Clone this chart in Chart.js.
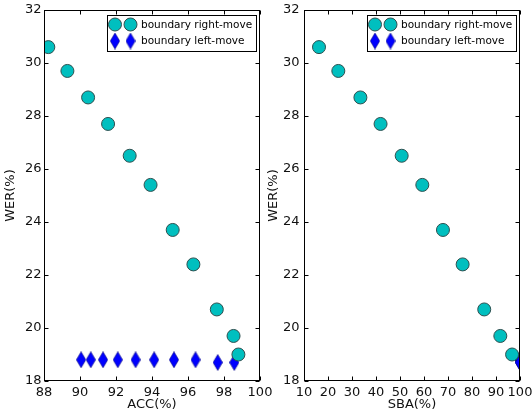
<!DOCTYPE html>
<html>
<head>
<meta charset="utf-8">
<script src="https://cdn.jsdelivr.net/npm/chart.js@4.4.1/dist/chart.umd.min.js"></script>
<style>
  html, body { margin: 0; background: #fff; }
  #wrap { position: relative; width: 532px; height: 415px; }
  canvas { position: absolute; top: 0; }
  #c-acc { left: 0; }
  #c-sba { left: 266px; }
</style>
</head>
<body>
<div id="wrap">
  <canvas id="c-acc" width="280" height="415"></canvas>
  <canvas id="c-sba" width="266" height="415"></canvas>
</div>
<script>
// ── data ──
const werRightMove = [30.6, 29.7, 28.7, 27.7, 26.5, 25.4, 23.7, 22.4, 20.7, 19.7, 19.0];
const accRightMove = [88.24, 89.3, 90.45, 91.56, 92.76, 93.92, 95.15, 96.3, 97.6, 98.53, 98.8];
const sbaRightMove = [16.25, 24.3, 33.5, 41.9, 50.7, 59.3, 67.9, 76.1, 85.1, 91.8, 96.7];

const werLeftMove = [18.8, 18.8, 18.8, 18.8, 18.8, 18.8, 18.8, 18.8, 18.7, 18.7];
const accLeftMove = [90.06, 90.6, 91.28, 92.1, 93.09, 94.12, 95.22, 96.42, 97.65, 98.57];
const sbaLeftMove = [100, 100, 100, 100, 100, 100, 100, 100, 100, 100];

const werTicks = { min: 18, max: 32, step: 2 };
const accTicks = { min: 88, max: 100, step: 2 };
const sbaTicks = { min: 10, max: 100, step: 10 };

const labels = ['boundary right-move', 'boundary left-move'];

const colors = {
  cyan: '#00bfbf',
  cyanEdge: '#2d4f4f',
  blue: '#0000ff',
  blueEdge: '#00007a',
  ink: '#000',
};

Chart.defaults.font.family = "'DejaVu Sans', sans-serif";
Chart.defaults.font.size = 13;
Chart.defaults.color = '#111';

// thin diamond marker (matplotlib 'd')
function thinDiamond() {
  const c = document.createElement('canvas');
  c.width = 10; c.height = 17;
  const g = c.getContext('2d');
  g.beginPath();
  g.moveTo(5, 0.5); g.lineTo(9.7, 8.5); g.lineTo(5, 16.5); g.lineTo(0.3, 8.5); g.closePath();
  g.fillStyle = colors.blue; g.fill();
  g.lineWidth = 0.6; g.strokeStyle = colors.blueEdge; g.stroke();
  return c;
}
const diamond = thinDiamond();

function drawCircle(ctx, x, y) {
  ctx.beginPath();
  ctx.arc(x, y, 6.5, 0, Math.PI * 2);
  ctx.fillStyle = colors.cyan; ctx.fill();
  ctx.lineWidth = 1; ctx.strokeStyle = colors.cyanEdge; ctx.stroke();
}

// frame, inward ticks on all four sides, boxed legend inside the axes
const frameAndLegend = {
  id: 'frameAndLegend',
  afterDraw(chart) {
    const { ctx, chartArea: a, scales: { x, y } } = chart;
    const L = Math.round(a.left) + 0.5, R = Math.round(a.right) - 0.5;
    const T = Math.round(a.top) + 0.5, B = Math.round(a.bottom) - 0.5;
    ctx.save();
    ctx.strokeStyle = colors.ink;
    ctx.lineWidth = 1;
    ctx.beginPath();
    x.ticks.forEach(t => {
      const px = Math.round(x.getPixelForValue(t.value)) + 0.5;
      ctx.moveTo(px, B); ctx.lineTo(px, B - 4);
      ctx.moveTo(px, T); ctx.lineTo(px, T + 4);
    });
    y.ticks.forEach(t => {
      const py = Math.round(y.getPixelForValue(t.value)) + 0.5;
      ctx.moveTo(L, py); ctx.lineTo(L + 4, py);
      ctx.moveTo(R, py); ctx.lineTo(R - 4, py);
    });
    ctx.stroke();
    ctx.strokeRect(L, T, R - L, B - T);

    // legend
    const bw = 149, bh = 36;
    const bx = Math.round(a.right - 4 - bw) + 0.5, by = Math.round(a.top + 5) + 0.5;
    ctx.fillStyle = '#fff';
    ctx.fillRect(bx, by, bw, bh);
    ctx.strokeRect(bx, by, bw, bh);
    ctx.font = "10.5px 'DejaVu Sans', sans-serif";
    ctx.textBaseline = 'middle';
    chart.data.datasets.forEach((ds, i) => {
      const cy = by + 9 + i * 16.5;
      [bx + 7.5, bx + 23].forEach(mx => {
        if (ds.pointStyle === 'circle') drawCircle(ctx, mx, cy);
        else ctx.drawImage(diamond, mx - diamond.width / 2, cy - diamond.height / 2);
      });
      ctx.fillStyle = colors.ink;
      ctx.fillText(ds.label, bx + 33.5, cy + 0.5);
    });
    ctx.restore();
  }
};

function makeChart(id, xName, xVals, xLeftVals, xt, yAxisWidth, padRight, yTitlePad, yTickPad) {
  new Chart(document.getElementById(id), {
    type: 'scatter',
    data: {
      datasets: [{
        label: labels[0],
        data: xVals.map((v, i) => ({ x: v, y: werRightMove[i] })),
        pointStyle: 'circle',
        pointRadius: 6.5,
        backgroundColor: colors.cyan,
        borderColor: colors.cyanEdge,
        borderWidth: 1,
        clip: 0,
      }, {
        label: labels[1],
        data: xLeftVals.map((v, i) => ({ x: v, y: werLeftMove[i] })),
        pointStyle: diamond,
        pointRadius: 7,
        clip: 0,
      }]
    },
    options: {
      responsive: false,
      animation: false,
      events: [],
      layout: { padding: { top: 10, left: 0, right: padRight, bottom: 0 } },
      plugins: { legend: { display: false }, tooltip: { enabled: false } },
      scales: {
        x: {
          type: 'linear', min: xt.min, max: xt.max,
          grid: { display: false, drawTicks: false },
          border: { display: false },
          ticks: { stepSize: xt.step, autoSkip: false, maxRotation: 0, padding: 4 },
          title: { display: true, text: xName, padding: { top: 0, bottom: 3 } },
          afterFit: s => { s.height = 34; s.paddingLeft = 0; s.paddingRight = 0; }
        },
        y: {
          type: 'linear', min: werTicks.min, max: werTicks.max,
          grid: { display: false, drawTicks: false },
          border: { display: false },
          ticks: { stepSize: werTicks.step, padding: yTickPad },
          title: { display: true, text: 'WER(%)', padding: { top: yTitlePad, bottom: 0 } },
          afterFit: s => { s.width = yAxisWidth; s.paddingTop = 0; s.paddingBottom = 0; }
        }
      }
    },
    plugins: [frameAndLegend]
  });
}

makeChart('c-acc', 'ACC(%)', accRightMove, accLeftMove, accTicks, 44, 20, 3, 2.5);
makeChart('c-sba', 'SBA(%)', sbaRightMove, sbaLeftMove, sbaTicks, 38, 12, 0, 4.5);
</script>
</body>
</html>
